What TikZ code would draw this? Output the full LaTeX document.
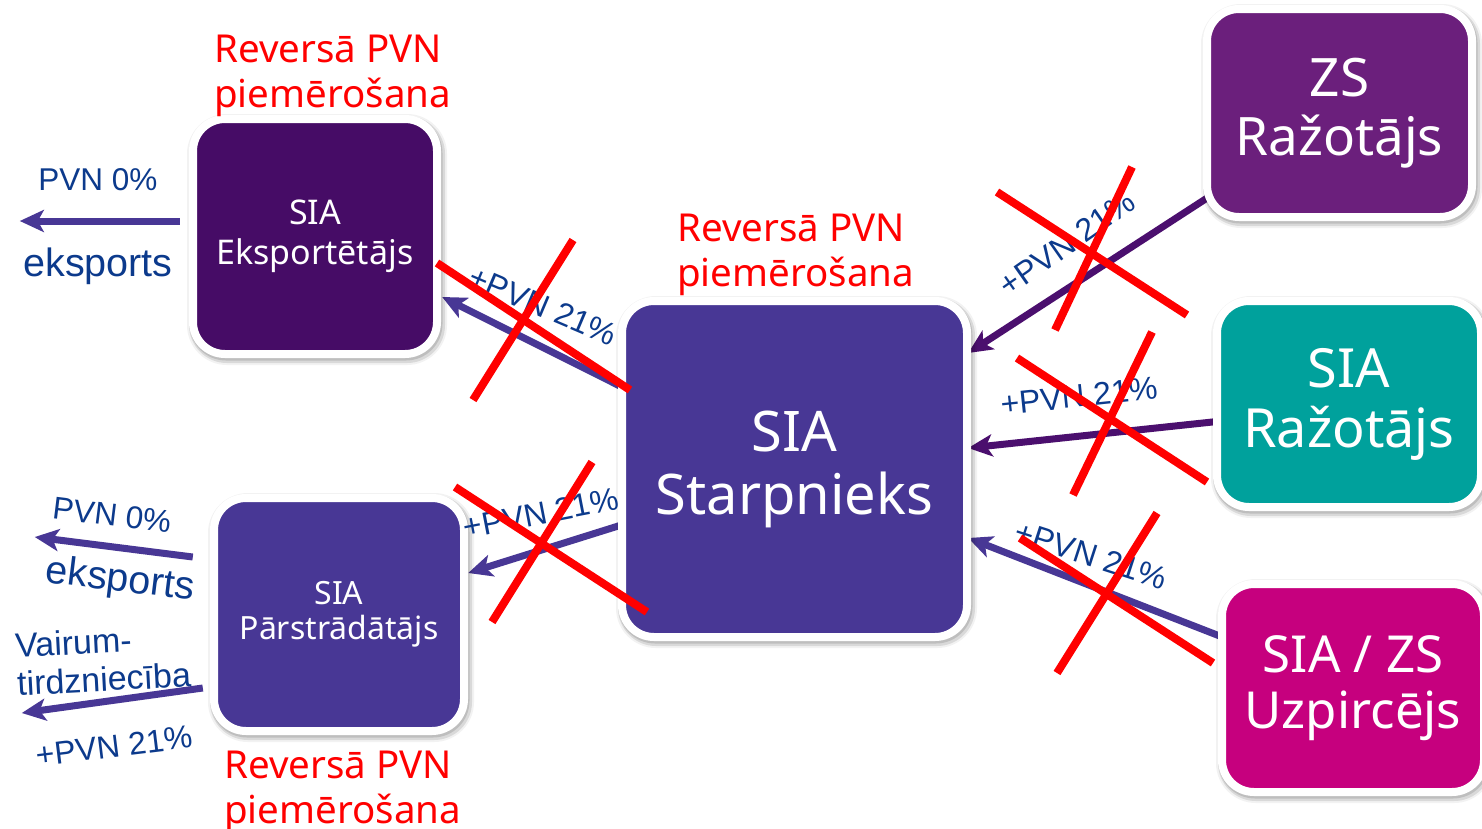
\documentclass[tikz,border=0pt]{standalone}
\usepackage{fontspec}
\setmainfont{Noto Sans}
\newfontfamily\arialf{Liberation Sans}
\usetikzlibrary{arrows.meta,shadows,calc}
\definecolor{eksc}{HTML}{460C66}
\definecolor{starc}{HTML}{483795}
\definecolor{zsc}{HTML}{6B1F7C}
\definecolor{tealc}{HTML}{00A19C}
\definecolor{magc}{HTML}{C6007E}
\definecolor{darkarr}{HTML}{4B0F6E}
\definecolor{bluetxt}{HTML}{0C3A8C}
\definecolor{redc}{HTML}{FF0000}
\tikzset{
  box/.style={rectangle, rounded corners=32pt, draw=white, line width=8pt,
    text=white, align=center, inner sep=0pt,
    general shadow={draw=black, fill=black, line width=16pt, opacity=0.05, shadow xshift=2pt, shadow yshift=-3pt},
    general shadow={draw=black, fill=black, line width=12pt, opacity=0.10, shadow xshift=2pt, shadow yshift=-3pt},
    general shadow={draw=black, fill=black, line width=9pt, opacity=0.12, shadow xshift=1pt, shadow yshift=-2pt}},
  arr/.style={line width=7pt, -{Stealth[length=24pt,width=22pt,inset=6pt]}},
  cross/.style={line width=8pt, draw=redc},
  bl/.style={text=bluetxt, font=\arialf\fontsize{32}{36}\selectfont, inner sep=0pt},
  rl/.style={text=redc, font=\fontsize{38.5}{45}\selectfont, align=left, inner sep=0pt},
}
\begin{document}
\begin{tikzpicture}[x=1pt,y=-1pt]
\useasboundingbox[fill=white] (0,0) rectangle (1482,828);

\path (315,236.5) coordinate (eksc0) (794.5,469) coordinate (starc0)
  (1339.5,113) coordinate (zsc0) (1349,404) coordinate (siac0)
  (1353,688) coordinate (uzpc0) (339,614.5) coordinate (parc0);

% invisible helpers for anchors
\node[minimum width=244pt, minimum height=235pt, inner sep=0pt] (eks) at (eksc0) {};
\node[minimum width=345pt, minimum height=336pt, inner sep=0pt] (star) at (starc0) {};
\node[minimum width=265pt, minimum height=208pt, inner sep=0pt] (zsr) at (zsc0) {};
\node[minimum width=264pt, minimum height=206pt, inner sep=0pt] (siar) at (siac0) {};
\node[minimum width=262pt, minimum height=208pt, inner sep=0pt] (uzp) at (uzpc0) {};
\node[minimum width=250pt, minimum height=233pt, inner sep=0pt] (par) at (parc0) {};

% arrows
\draw[arr, starc] ($(star.west)+(6,-79)$) -- ($(eks.east)+(5,60.5)$);
\draw[arr, darkarr] ($(zsr.west)+(8,80)$) -- ($(star.east)+(1,-116)$);
\draw[arr, darkarr] ($(siar.west)+(5,17)$) -- ($(star.east)+(1,-21)$);
\draw[arr, starc] ($(uzp.west)+(3,-50)$) -- ($(star.east)+(1,69)$);
\draw[arr, starc] ($(star.west)+(6,54)$) -- ($(par.east)+(4,-41.5)$);
\coordinate (e1s) at ($(eks.west)+(-13,-15.5)$);
\coordinate (e1t) at ($(eks.west)+(-173,-15.5)$);
\draw[arr, starc] (e1s) -- (e1t);
\coordinate (e2s) at ($(par.west)+(-21,-57.5)$);
\coordinate (e2t) at ($(par.west)+(-179,-77.5)$);
\draw[arr, starc] (e2s) -- (e2t);
\coordinate (e3s) at ($(par.west)+(-11,73.5)$);
\coordinate (e3t) at ($(par.west)+(-192,98.5)$);
\draw[arr, starc] (e3s) -- (e3t);

% boxes
\node[box, fill=eksc, minimum width=244pt, minimum height=235pt,
  font=\fontsize{34}{40}\selectfont] (eksb) at (eksc0) {SIA\\Eksportētājs};
\node[box, fill=starc, minimum width=345pt, minimum height=336pt,
  font=\fontsize{56}{63}\selectfont] (starb) at (starc0) {SIA\\Starpnieks};
\node[box, fill=zsc, minimum width=265pt, minimum height=208pt,
  font=\fontsize{53}{59}\selectfont] (zsrb) at (zsc0) {ZS\\Ražotājs};
\node[box, fill=tealc, minimum width=264pt, minimum height=206pt,
  font=\fontsize{54}{60}\selectfont] (siarb) at (siac0) {SIA\\Ražotājs};
\node[box, fill=magc, minimum width=262pt, minimum height=208pt,
  font=\fontsize{51}{56}\selectfont] (uzpb) at (uzpc0) {SIA / ZS\\Uzpircējs};
\node[box, fill=starc, minimum width=250pt, minimum height=233pt,
  font=\fontsize{32}{35}\selectfont] (parb) at (parc0) {SIA\\Pārstrādātājs};

% blue labels
\node[bl, font=\arialf\fontsize{31.5}{36}\selectfont] (l1) at (98,180) {PVN 0\%};
\node[bl, font=\arialf\fontsize{39.5}{42}\selectfont] (l2) at (98,266) {eksports};
\node[bl, rotate=-7, font=\arialf\fontsize{31.5}{36}\selectfont] (l3) at (112,515) {PVN 0\%};
\node[bl, rotate=-7, font=\arialf\fontsize{39.5}{42}\selectfont] (l4) at (120,581) {eksports};
\node[bl, rotate=3, align=left, font=\arialf\fontsize{34}{38}\selectfont] (l5) at (103,660) {Vairum-\\tirdzniecība};
\node[bl, rotate=7] (l6) at (114,746) {+PVN 21\%};
\node[bl, rotate=-23] (l7) at (543,306) {+PVN 21\%};
\node[bl, rotate=35] (l8) at (1067,243) {+PVN 21\%};
\node[bl, rotate=6] (l9) at (1079,396) {+PVN 21\%};
\node[bl, rotate=-18] (l10) at (1091,555) {+PVN 21\%};
\node[bl, rotate=11] (l11) at (541,513) {+PVN 21\%};

% red labels
\node[rl, anchor=west] (r1) at (214,76) {Reversā PVN\\piemērošana};
\node[rl, anchor=west] (r2) at (677,255) {Reversā PVN\\piemērošana};
\node[rl, anchor=west] (r3) at (224,792) {Reversā PVN\\piemērošana};

% red crosses
\draw[cross] (437,263) -- (630,390);
\draw[cross] (573,240) -- (473,400);
\draw[cross] (997,192) -- (1187,315);
\draw[cross] (1132,167) -- (1055,330);
\draw[cross] (1017,358) -- (1207,482);
\draw[cross] (1152,332) -- (1073,495);
\draw[cross] (1020,538) -- (1213,663);
\draw[cross] (1157,513) -- (1057,673);
\draw[cross] (455,487) -- (647,612);
\draw[cross] (592,462) -- (492,622);
\end{tikzpicture}
\end{document}
